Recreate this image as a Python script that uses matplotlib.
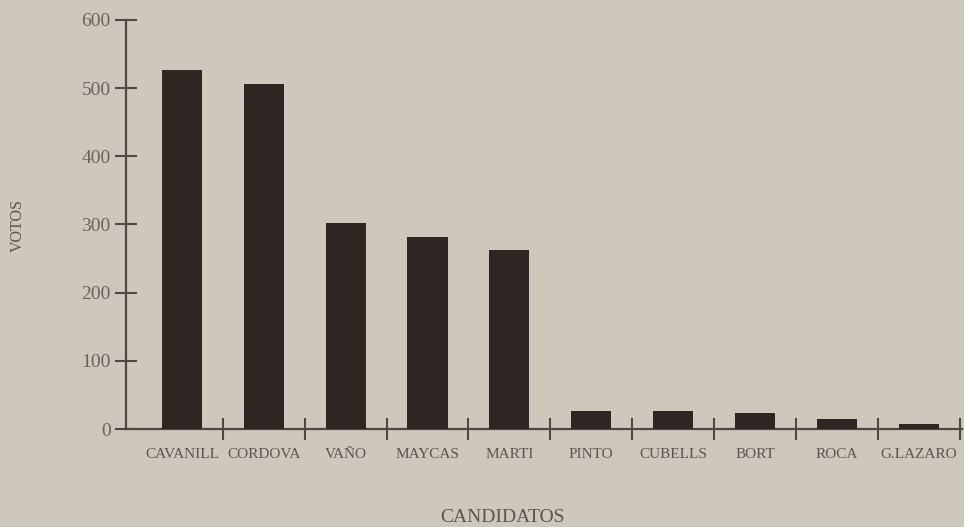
import matplotlib
matplotlib.use("Agg")
import matplotlib.pyplot as plt
import numpy as np

candidatos = ["CAVANILL", "CORDOVA", "VAÑO", "MAYCAS", "MARTI",
              "PINTO", "CUBELLS", "BORT", "ROCA", "G.LAZARO"]
votos = [527, 506, 302, 281, 263, 26, 26, 23, 14, 7]
yticks = [0, 100, 200, 300, 400, 500, 600]

bg = "#cdc7bc"
bar_col = "#2d2622"
axis_col = "#4f4741"
txt_col = "#5c544e"
ytxt_col = "#6a625b"

plt.rcParams['font.family'] = ['Liberation Serif', 'DejaVu Serif']

fig = plt.figure(figsize=(9.64, 5.27), dpi=100, facecolor=bg)
ax = fig.add_axes([126/964, 1 - 429/527, 836/964, (429 - 20)/527])
ax.set_facecolor(bg)

x = np.arange(len(candidatos))
ax.bar(x, votos, width=0.49, color=bar_col, zorder=3)

ax.set_xlim(-0.684, 9.53)
ax.set_ylim(0, 600)

for s in ["top", "right"]:
    ax.spines[s].set_visible(False)
for s in ["left", "bottom"]:
    ax.spines[s].set_color(axis_col)
    ax.spines[s].set_linewidth(1.6)

ax.set_yticks(yticks)
ax.set_yticklabels([str(v) for v in yticks])
ax.set_xticks(x + 0.5)
ax.set_xticklabels([])
ax.set_xticks(x, minor=True)
ax.set_xticklabels(candidatos, minor=True)

ax.tick_params(axis="y", direction="inout", length=16, width=1.5,
               color=axis_col, labelsize=14, labelcolor=ytxt_col, pad=3)
ax.tick_params(axis="x", which="major", direction="inout", length=16,
               width=1.5, color=axis_col)
ax.tick_params(axis="x", which="minor", length=0, labelsize=11,
               labelcolor=txt_col, pad=14)

fig.text(18/964, 1 - 225/527, "VOTOS", rotation=90, ha="center",
         va="center", fontsize=11.5, color=txt_col)
fig.text(502/964, 1 - 517/527, "CANDIDATOS", ha="center", va="center",
         fontsize=14, color=txt_col)

fig.savefig("out.png", dpi=100, facecolor=bg)
